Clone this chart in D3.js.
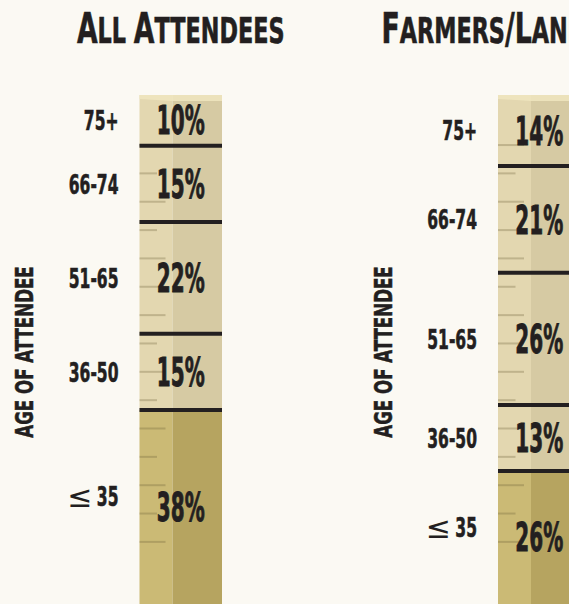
<!DOCTYPE html>
<html>
<head>
<meta charset="utf-8">
<script src="https://cdn.jsdelivr.net/npm/d3@7"></script>
<style>
  html, body { margin: 0; padding: 0; background: #fbf9f3; }
  svg { display: block; }
  text {
    font-family: 'Liberation Sans Narrow', 'DejaVu Sans Condensed', 'DejaVu Sans', sans-serif;
    font-weight: bold;
    fill: #231f20;
  }
</style>
</head>
<body>
<svg id="chart" width="569" height="604"></svg>
<script>
// Age breakdown of attendees, top (oldest) to bottom (youngest)
const ageGroups = ["75+", "66-74", "51-65", "36-50", "≤35"];
const allAttendeesShare = [10, 15, 22, 15, 38];
const farmersShare = [14, 21, 26, 13, 26];
const panelTitles = ["All Attendees", "Farmers/Landowners"];
const axisTitle = "Age of Attendee";

const W = 569, H = 604;
const ink = "#231f20";
const svg = d3.select("#chart");

svg.append("rect").attr("width", W).attr("height", H).attr("fill", "#fbf9f3");

// vertical share scale: 0% at the top of the column, 100% at the bottom
const y = d3.scaleLinear().domain([0, 100]).range([95, 603]);
// left edge of each panel's column
const x = d3.scalePoint().domain(panelTitles).range([139.5, 498]);

const colW = 82.5, faceW = 33;

// front (lit) face and side (shaded) face colours per age group
const faceColor = d3.scaleOrdinal().domain(ageGroups)
  .range(["#e3d7b0", "#e3d7b0", "#e3d7b0", "#e3d7b0", "#cbba75"]);
const sideColor = d3.scaleOrdinal().domain(ageGroups)
  .range(["#d6caa3", "#d6caa3", "#d6caa3", "#d6caa3", "#b6a460"]);

// ruler ticks on the lit face: long (L) or short (S)
const rulerMarks = {
  [panelTitles[0]]: "LSLSLLLSLSLSLSL",
  [panelTitles[1]]: "LSLLLSLLLSLSLSL"
};
const rulerStart = 9.85, rulerStep = 5.58;

const panels = [
  { title: panelTitles[0], values: allAttendeesShare },
  { title: panelTitles[1], values: farmersShare }
];

// small-caps style title: first letter of each word larger
function smallCapsTitle(sel, str, big, small) {
  const parts = str.split(/(\s+|\/)/).filter(s => s.length);
  parts.forEach(p => {
    if (/^\s+$/.test(p)) {
      sel.append("tspan").attr("font-size", small).text(" ");
    } else if (p === "/") {
      sel.append("tspan").attr("font-size", big).text("/");
    } else {
      sel.append("tspan").attr("font-size", big).text(p[0].toUpperCase());
      sel.append("tspan").attr("font-size", small).text(p.slice(1).toUpperCase());
    }
  });
}

panels.forEach(panel => {
  const x0 = x(panel.title);
  const cx = x0 + colW / 2;
  const g = svg.append("g");
  const ends = d3.cumsum(panel.values);
  const segs = panel.values.map((v, i) => ({
    group: ageGroups[i], value: v, start: ends[i] - v, end: ends[i], last: i === panel.values.length - 1
  }));

  // column faces
  g.selectAll("rect.face").data(segs).join("rect")
    .attr("x", x0).attr("width", faceW)
    .attr("y", d => y(d.start)).attr("height", d => y(d.end) - y(d.start) + 1)
    .attr("fill", d => faceColor(d.group));
  g.selectAll("rect.side").data(segs).join("rect")
    .attr("x", x0 + faceW).attr("width", colW - faceW)
    .attr("y", d => y(d.start)).attr("height", d => y(d.end) - y(d.start) + 1)
    .attr("fill", d => sideColor(d.group));

  // lighter top lip of the column
  const top = y(0);
  g.append("path")
    .attr("d", `M${x0},${top} H${x0 + colW} V${top + 6} L${x0 + faceW},${top + 6} L${x0},${top + 4} Z`)
    .attr("fill", "#f0e6bf").attr("opacity", 0.85);

  // ruler ticks
  const marks = rulerMarks[panel.title].split("");
  g.selectAll("line.tick").data(marks).join("line")
    .attr("x1", x0)
    .attr("x2", d => x0 + (d === "L" ? 26 : 17.5))
    .attr("y1", (d, k) => y(rulerStart + k * rulerStep))
    .attr("y2", (d, k) => y(rulerStart + k * rulerStep))
    .attr("stroke", "rgb(110,95,55)").attr("stroke-opacity", 0.3).attr("stroke-width", 2);

  // dividers between age groups
  g.selectAll("line.div").data(segs.slice(0, -1)).join("line")
    .attr("x1", x0).attr("x2", x0 + colW)
    .attr("y1", d => y(d.end)).attr("y2", d => y(d.end))
    .attr("stroke", ink).attr("stroke-width", 4);

  // share labels
  const pctSize = 39;
  g.selectAll("g.pct").data(segs).join("g")
    .attr("transform", d => `translate(${cx},${(y(d.start) + y(d.end)) / 2 + pctSize * 0.36}) scale(0.57,1)`)
    .append("text")
    .attr("text-anchor", "middle")
    .attr("font-size", pctSize)
    .attr("stroke", ink).attr("stroke-width", 0.9)
    .text(d => d.value + "%");

  // age group labels; a leading "≤" is set in a lighter, wider glyph
  const labSize = 27;
  const labY = d => (y(d.start) + y(d.end)) / 2 + labSize * 0.36 - (d.last ? 10 : 0);
  g.selectAll("g.lab").data(segs).join("g")
    .attr("transform", d => `translate(${x0 - 21},${labY(d)}) scale(0.64,1)`)
    .append("text")
    .attr("text-anchor", "end")
    .attr("font-size", labSize)
    .attr("stroke", ink).attr("stroke-width", 0.6)
    .text(d => d.group.replace(/^≤/, ""));
  g.selectAll("text.le").data(segs.filter(d => d.group.startsWith("≤"))).join("text")
    .attr("class", "le")
    .attr("x", x0 - 47).attr("y", d => labY(d) + 1)
    .attr("text-anchor", "end")
    .style("font-family", "'DejaVu Sans', sans-serif")
    .style("font-weight", "normal")
    .attr("font-size", 30)
    .text("≤");

  // panel title
  const title = svg.append("g")
    .attr("transform", `translate(${cx},43) scale(0.69,1)`)
    .append("text")
    .attr("text-anchor", "middle")
    .attr("stroke", ink).attr("stroke-width", 0.6);
  smallCapsTitle(title, panel.title, 43, 36);

  // vertical axis title
  svg.append("g")
    .attr("transform", `translate(${x0 - 106.5},352) rotate(-90) scale(0.74,1)`)
    .append("text")
    .attr("text-anchor", "middle")
    .attr("font-size", 25)
    .attr("stroke", ink).attr("stroke-width", 0.5)
    .text(axisTitle.toUpperCase());
});
</script>
</body>
</html>
